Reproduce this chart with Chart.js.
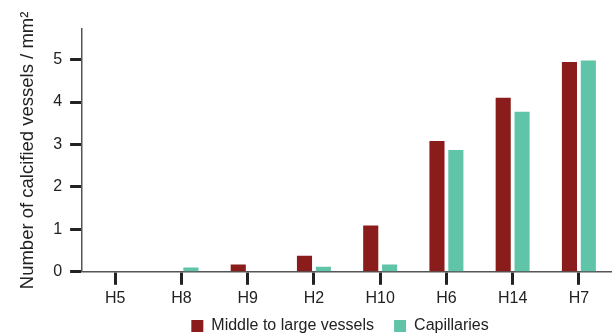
<!DOCTYPE html>
<html>
<head>
<meta charset="utf-8">
<script src="https://cdn.jsdelivr.net/npm/chart.js@4/dist/chart.umd.min.js"></script>
<style>
  html, body { margin: 0; padding: 0; background: #fff; }
  #wrap { width: 612px; height: 335px; }
</style>
</head>
<body>
<div id="wrap"><canvas id="vesselChart"></canvas></div>
<script>
const categories = ['H5', 'H8', 'H9', 'H2', 'H10', 'H6', 'H14', 'H7'];
const middleToLarge = [0, 0, 0.17, 0.38, 1.09, 3.08, 4.10, 4.94];
const capillaries = [0, 0.10, 0, 0.12, 0.17, 2.87, 3.77, 4.98];
const yTicks = [0, 1, 2, 3, 4, 5];

const font = 'Liberation Sans, Arial, Helvetica, sans-serif';

// legend padding also sets the gap between items, so trim its height and pull it up
const legendTrim = {
    id: 'legendTrim',
    afterInit(chart) {
        const legend = chart.legend;
        const fit = legend.fit;
        legend.fit = function() {
            fit.call(this);
            this.height = 23;
        };
    },
    afterLayout(chart) {
        const legend = chart.legend;
        legend.top -= 14;
        legend.bottom = chart.height; // legend clips to its own box
        legend.height = legend.bottom - legend.top;
        legend.left -= 7;
        legend.right -= 7;
    }
};

document.addEventListener('DOMContentLoaded', function() {
    const ctx = document.getElementById('vesselChart').getContext('2d');
    new Chart(ctx, {
        type: 'bar',
        data: {
            labels: categories,
            datasets: [
                {
                    label: 'Middle to large vessels',
                    data: middleToLarge,
                    backgroundColor: '#8a1c1b',
                    barPercentage: 0.8,
                    categoryPercentage: 0.57
                },
                {
                    label: 'Capillaries',
                    data: capillaries,
                    backgroundColor: '#5fc4a8',
                    barPercentage: 0.8,
                    categoryPercentage: 0.57
                }
            ]
        },
        plugins: [legendTrim],
        options: {
            responsive: true,
            maintainAspectRatio: false,
            animation: false,
            layout: { padding: { top: 29, right: 0, left: 17, bottom: 0 } },
            plugins: {
                tooltip: { enabled: false },
                legend: {
                    position: 'bottom',
                    fullSize: false,
                    labels: {
                        boxWidth: 12,
                        boxHeight: 12,
                        padding: 20,
                        color: '#222',
                        font: { family: font, size: 16 }
                    }
                }
            },
            scales: {
                x: {
                    grid: {
                        offset: false,
                        drawOnChartArea: false,
                        tickLength: 13,
                        tickWidth: 3,
                        tickColor: '#222'
                    },
                    border: { color: '#555', width: 1.5 },
                    ticks: {
                        color: '#222',
                        padding: 4,
                        font: { family: font, size: 16 }
                    }
                },
                y: {
                    min: 0,
                    max: 5.72,
                    afterBuildTicks: function(axis) {
                        axis.ticks = yTicks.map(v => ({ value: v }));
                    },
                    grid: {
                        drawOnChartArea: false,
                        tickLength: 12,
                        tickWidth: 3,
                        tickColor: '#222'
                    },
                    border: { color: '#555', width: 1.5 },
                    ticks: {
                        color: '#222',
                        padding: 8,
                        font: { family: font, size: 16 }
                    },
                    title: {
                        display: true,
                        text: 'Number of calcified vessels / mm²',
                        color: '#222',
                        padding: { top: 0, bottom: 6 },
                        font: { family: font, size: 18.5 }
                    }
                }
            }
        }
    });
});
</script>
</body>
</html>
